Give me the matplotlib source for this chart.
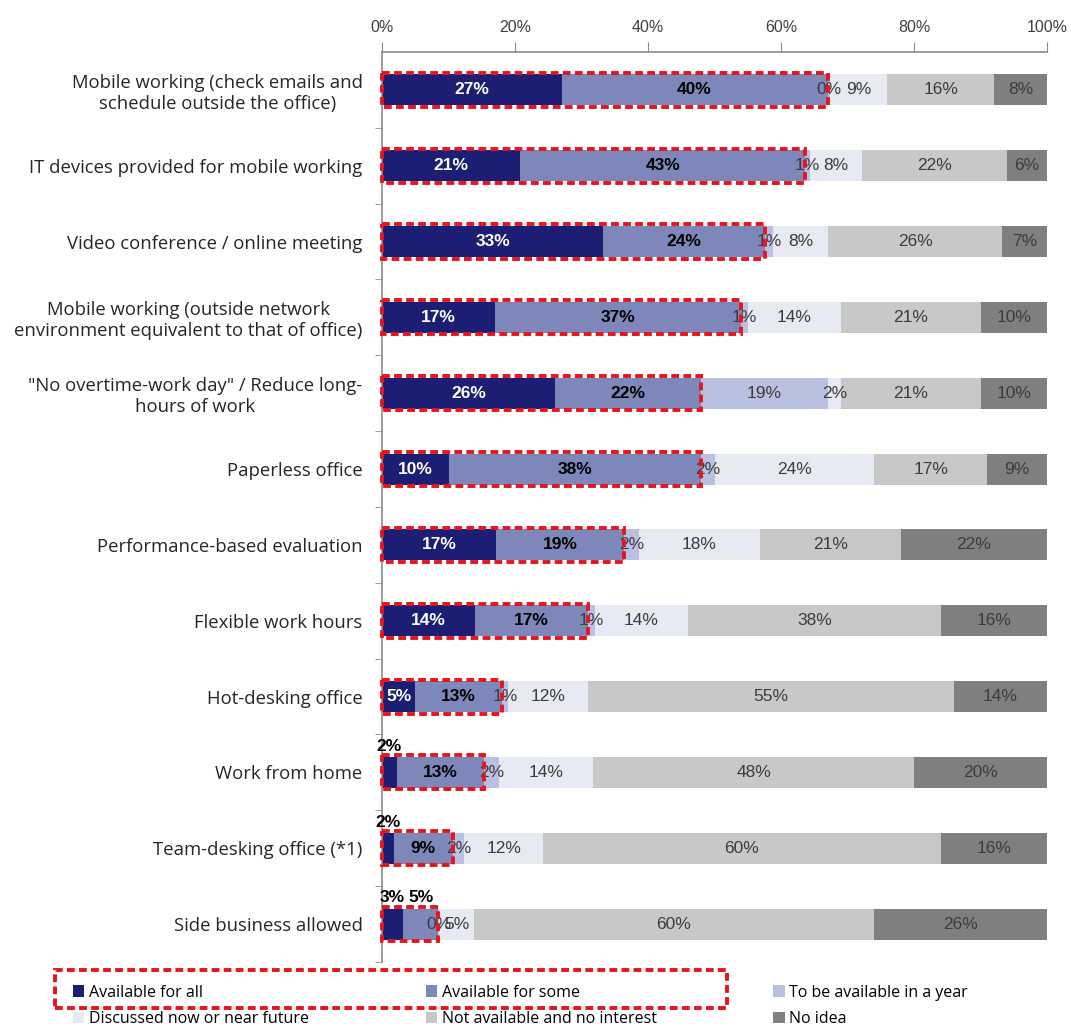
import numpy as np
import matplotlib.pyplot as plt
from matplotlib.patches import Patch, Rectangle

# ---------------- datos ----------------
categorias = [
    'Mobile working (check emails and\nschedule outside the office)',
    'IT devices provided for mobile working',
    'Video conference / online meeting',
    'Mobile working (outside network\nenvironment equivalent to that of office)',
    '"No overtime-work day" / Reduce long-\nhours of work',
    'Paperless office',
    'Performance-based evaluation',
    'Flexible work hours',
    'Hot-desking office',
    'Work from home',
    'Team-desking office (*1)',
    'Side business allowed',
]

series = ['Available for all', 'Available for some', 'To be available in a year',
          'Discussed now or near future', 'Not available and no interest', 'No idea']

# porcentajes por fila (la etiqueta muestra el valor redondeado)
disp_todos = [27.0, 20.8, 33.3, 17.0, 26.0, 10.0, 17.2, 14.0, 5.0, 2.2, 1.8, 3.2]
disp_algunos = [40.0, 42.8, 24.3, 37.0, 22.0, 38.0, 19.2, 17.0, 13.0, 13.2, 8.8, 5.2]
en_un_anio = [0.3, 0.8, 1.2, 1.0, 19.0, 2.0, 2.2, 1.0, 1.0, 2.2, 1.8, 0.2]
en_discusion = [8.7, 7.8, 8.3, 14.0, 2.0, 24.0, 18.2, 14.0, 12.0, 14.2, 11.8, 5.2]
sin_interes = [16.0, 21.8, 26.2, 21.0, 21.0, 17.0, 21.2, 38.0, 55.0, 48.2, 59.8, 60.2]
sin_idea = [8.0, 6.0, 6.7, 10.0, 10.0, 9.0, 22.0, 16.0, 14.0, 20.0, 16.0, 26.0]

colores = ['#1b1e72', '#7d87b9', '#b9c0e1', '#e7e9f3', '#c8c8c8', '#7f7f7f']

# ---------------- figura ----------------
fig = plt.figure(figsize=(10.71, 10.27), dpi=100)
ax = fig.add_axes([0.3567, 0.0633, 0.6209, 0.8861])

mat = np.array([disp_todos, disp_algunos, en_un_anio, en_discusion, sin_interes, sin_idea])
y = np.arange(len(categorias))
alto = 0.41
fuente_val = ['Liberation Sans', 'DejaVu Sans']


def etiqueta(x, yy, v, arriba, color, peso):
    if arriba:
        ax.text(x, yy - alto / 2 - 0.04, f'{round(v)}%', ha='center', va='bottom',
                fontsize=12.5, fontweight='bold', color='black', family=fuente_val)
    else:
        ax.text(x, yy, f'{round(v)}%', ha='center', va='center',
                fontsize=12.5, fontweight=peso, color=color, family=fuente_val)


izq = np.zeros(len(categorias))
for j, serie in enumerate(series):
    vals = mat[j]
    ax.barh(y, vals, left=izq, height=alto, color=colores[j], label=serie, zorder=2)
    for i, v in enumerate(vals):
        cx = izq[i] + v / 2
        if j == 0:
            etiqueta(cx, y[i], v, v < 3.5, 'white', 'bold')
        elif j == 1:
            etiqueta(cx, y[i], v, v < 5.5, 'black', 'bold')
        else:
            etiqueta(cx, y[i], v, False, '#3c3c3c', 'normal')
    izq = izq + vals

# recuadros rojos sobre "disponible" (todos + algunos)
for i in range(len(categorias)):
    ancho = disp_todos[i] + disp_algunos[i]
    ax.add_patch(Rectangle((0, y[i] - alto / 2 - 0.02), ancho, alto + 0.04, fill=False,
                           edgecolor='#e8141c', lw=2.8, ls=(0, (2.0, 1.1)), zorder=4,
                           clip_on=False))

# ejes
ax.set_xlim(0, 100)
ax.set_ylim(len(categorias) - 0.5, -0.5)
ax.xaxis.tick_top()
ax.set_xticks(np.arange(0, 101, 20))
ax.set_xticklabels([f'{t}%' for t in range(0, 101, 20)])
ax.tick_params(axis='x', which='major', length=7, color='#8c8c8c', labelsize=11.5,
               labelcolor='#404040', pad=5)
for lbl in ax.get_xticklabels():
    lbl.set_family(['Liberation Sans', 'DejaVu Sans'])
ax.set_yticks(y)
ax.set_yticklabels(categorias, fontsize=13.3, family='Open Sans', color='#262626',
                   ha='right', multialignment='center')
ax.set_yticks(np.arange(len(categorias)) + 0.5, minor=True)
ax.tick_params(axis='y', which='major', length=0, pad=14)
ax.tick_params(axis='y', which='minor', length=5, color='#8c8c8c')

for lado in ['right', 'bottom']:
    ax.spines[lado].set_visible(False)
for lado in ['top', 'left']:
    ax.spines[lado].set_color('#8c8c8c')
    ax.spines[lado].set_linewidth(1.2)

# leyenda (orden por filas)
handles = [Patch(facecolor=c, edgecolor='none') for c in colores]
orden = [0, 3, 1, 4, 2, 5]
fig.legend([handles[k] for k in orden], [series[k] for k in orden], ncol=3,
           loc='lower left', bbox_to_anchor=(0.055, -0.014), frameon=False,
           handlelength=0.7, handleheight=0.7, handletextpad=0.3,
           columnspacing=7.3, labelspacing=0.65, prop={'family': 'Open Sans', 'size': 11.5})

fig.patches.append(Rectangle((0.0514, 0.0185), 0.6275, 0.037, transform=fig.transFigure,
                             fill=False, edgecolor='#e8141c', lw=2.8, ls=(0, (2.0, 1.1))))

plt.savefig('out.png', dpi=100)
